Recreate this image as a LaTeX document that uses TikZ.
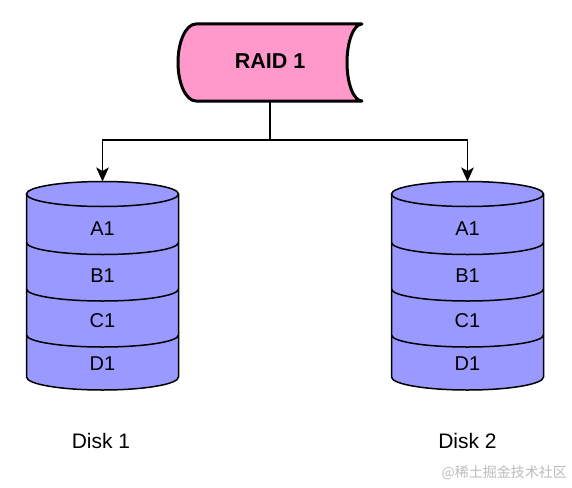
\documentclass[tikz,border=0pt]{standalone}
\usepackage{fontspec}
\setmainfont{Liberation Sans}
\newfontfamily\cjkfont{Noto Sans CJK SC}
\usetikzlibrary{arrows.meta}
\definecolor{raidpink}{HTML}{FF99CC}
\definecolor{diskblue}{HTML}{9999FF}
\definecolor{wmgray}{HTML}{BBBBBB}
\tikzset{
  conn/.style={line width=1.4pt, draw=black},
  arr/.style={conn, -{Stealth[length=14pt,width=12.5pt,inset=3.5pt]}},
  raidshape/.style={line width=3pt, draw=black, fill=raidpink, line join=round},
  diskbody/.style={line width=1.5pt, draw=black, fill=diskblue},
  diskline/.style={line width=1.5pt, draw=black},
  celltext/.style={font=\fontsize{20}{24}\selectfont, inner sep=0pt},
  disklabel/.style={font=\fontsize{21}{25}\selectfont, inner sep=0pt},
  raidtext/.style={font=\fontsize{21.5}{26}\selectfont\bfseries, inner sep=0pt},
  wm/.style={font=\cjkfont\fontsize{14}{17}\selectfont, text=wmgray, inner sep=0pt}
}
% pixel space: y grows downward, so angle 90 points down, 270 up
\newcommand{\diskdraw}[2]{%
  \fill[diskblue] (#1-76,194) -- (#1-76,377) arc[start angle=180,end angle=0,x radius=76,y radius=13] -- (#1+76,194) -- cycle;
  \draw[diskline] (#1-76,194) -- (#1-76,377) arc[start angle=180,end angle=0,x radius=76,y radius=13] -- (#1+76,194);
  \draw[diskbody] (#1,194) ellipse[x radius=76,y radius=12.5];
  \draw[diskline] (#1-76,242.5) arc[start angle=180,end angle=0,x radius=76,y radius=12];
  \draw[diskline] (#1-76,289) arc[start angle=180,end angle=0,x radius=76,y radius=12];
  \draw[diskline] (#1-76,335) arc[start angle=180,end angle=0,x radius=76,y radius=12];
  \node[celltext] (#2a) at (#1,229) {A1};
  \node[celltext] (#2b) at (#1,276) {B1};
  \node[celltext] (#2c) at (#1,321) {C1};
  \node[celltext] (#2d) at (#1,364) {D1};
  \coordinate (#2top) at (#1,181.5);
}
\begin{document}
\begin{tikzpicture}[x=1pt,y=-1pt]
\useasboundingbox (0,0) rectangle (572,487);
% RAID shape
\draw[raidshape] (196,24) -- (362,24)
  arc[start angle=270,end angle=90,x radius=15,y radius=38.5]
  -- (196,101)
  arc[start angle=90,end angle=270,x radius=18,y radius=38.5] -- cycle;
\node[raidtext] (raid) at (270,61) {RAID 1};
\coordinate (raidb) at (270,101);
\coordinate (split) at (270,140);
% disks
\diskdraw{102.5}{dl}
\diskdraw{467.5}{dr}
\node[disklabel] (disk1) at (101,440.5) {Disk 1};
\node[disklabel] (disk2) at (467.5,440.5) {Disk 2};
% connectors
\draw[conn] (raidb) -- (split);
\draw[arr] (split) -| (dltop);
\draw[arr] (split) -| (drtop);
% watermark
\node[wm, anchor=east] (wmark) at (567,473) {@稀土掘金技术社区};
\end{tikzpicture}
\end{document}
